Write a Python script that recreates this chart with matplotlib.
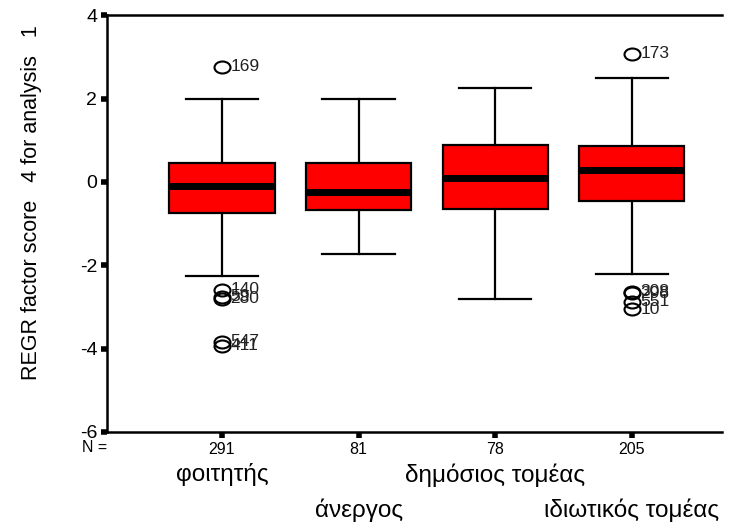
import matplotlib
matplotlib.use("Agg")
import matplotlib.pyplot as plt
from matplotlib.path import Path
from matplotlib.transforms import blended_transform_factory, Affine2D

plt.rcParams['font.family'] = ['Liberation Sans', 'DejaVu Sans']

categories = ["φοιτητής", "άνεργος", "δημόσιος τομέας", "ιδιωτικός τομέας"]
counts = [291, 81, 78, 205]
q1 = [-0.74, -0.67, -0.65, -0.45]
medians = [-0.11, -0.25, 0.10, 0.29]
q3 = [0.46, 0.46, 0.89, 0.85]
whisker_low = [-2.25, -1.73, -2.80, -2.20]
whisker_high = [2.00, 2.00, 2.25, 2.50]

# outliers per group: (value, case id)
outlier_values = [
    [2.76, -2.59, -2.76, -2.80, -3.84, -3.93],
    [],
    [],
    [3.07, -2.64, -2.67, -2.88, -3.05],
]
outlier_ids = [
    ["169", "140", "59", "280", "547", "411"],
    [],
    [],
    ["173", "308", "298", "551", "10"],
]

yticks = [4, 2, 0, -2, -4, -6]
ylabel = "REGR factor score   4 for analysis   1"

fig = plt.figure(figsize=(7.34, 5.23), dpi=100)
ax = fig.add_axes([0.1458, 0.174, 0.9837 - 0.1458, 0.971 - 0.174])

positions = list(range(1, len(categories) + 1))
stats = []
for i in range(len(categories)):
    stats.append(dict(med=medians[i], q1=q1[i], q3=q3[i],
                      whislo=whisker_low[i], whishi=whisker_high[i],
                      fliers=[]))

ax.bxp(stats, positions=positions, widths=0.77, patch_artist=True,
       showfliers=False,
       boxprops=dict(facecolor="#ff0000", edgecolor="black", linewidth=1.6),
       medianprops=dict(color="black", linewidth=5, solid_capstyle="butt"),
       whiskerprops=dict(color="black", linewidth=1.6),
       capprops=dict(color="black", linewidth=1.6),
       capwidths=0.53)

# slightly flattened open circle for outliers
ellipse = Path.unit_circle().transformed(Affine2D().scale(1.0, 0.75))

for pos, vals, ids in zip(positions, outlier_values, outlier_ids):
    for v, lab in zip(vals, ids):
        ax.plot([pos], [v], marker=ellipse, markersize=11.5,
                markerfacecolor="none", markeredgecolor="black",
                markeredgewidth=1.5, linestyle="none", zorder=3)
        ax.annotate(lab, (pos, v), xytext=(6, 0), textcoords="offset points",
                    va="center", ha="left", fontsize=12.5, color="#222222")

ax.set_xlim(0.159, 4.66)
ax.set_ylim(-6, 4)
ax.set_yticks(yticks)
ax.set_yticklabels([str(t) for t in yticks], fontsize=14)
ax.set_xticks(positions)
ax.set_xticklabels([str(c) for c in counts], fontsize=11.5)
ax.tick_params(axis="both", direction="out", length=4, width=4, color="black")
ax.tick_params(axis="y", pad=3)
ax.tick_params(axis="x", pad=3)

ax.spines["right"].set_visible(False)
for s in ["left", "top", "bottom"]:
    ax.spines[s].set_linewidth(1.8)

ax.text(-0.122, 0.55, ylabel, transform=ax.transAxes, rotation=90,
        ha="center", va="center", fontsize=15.5)

trans = blended_transform_factory(ax.transData, fig.transFigure)
fig.text(82 / 734, 1 - 448 / 523, "N =", fontsize=11.5, ha="left", va="center")
for i, (pos, cat) in enumerate(zip(positions, categories)):
    y = 1 - 475 / 523 if i % 2 == 0 else 1 - 510 / 523
    ax.text(pos, y, cat, transform=trans, ha="center", va="center",
            fontsize=17.5, clip_on=False)

fig.savefig("out.png", dpi=100)
